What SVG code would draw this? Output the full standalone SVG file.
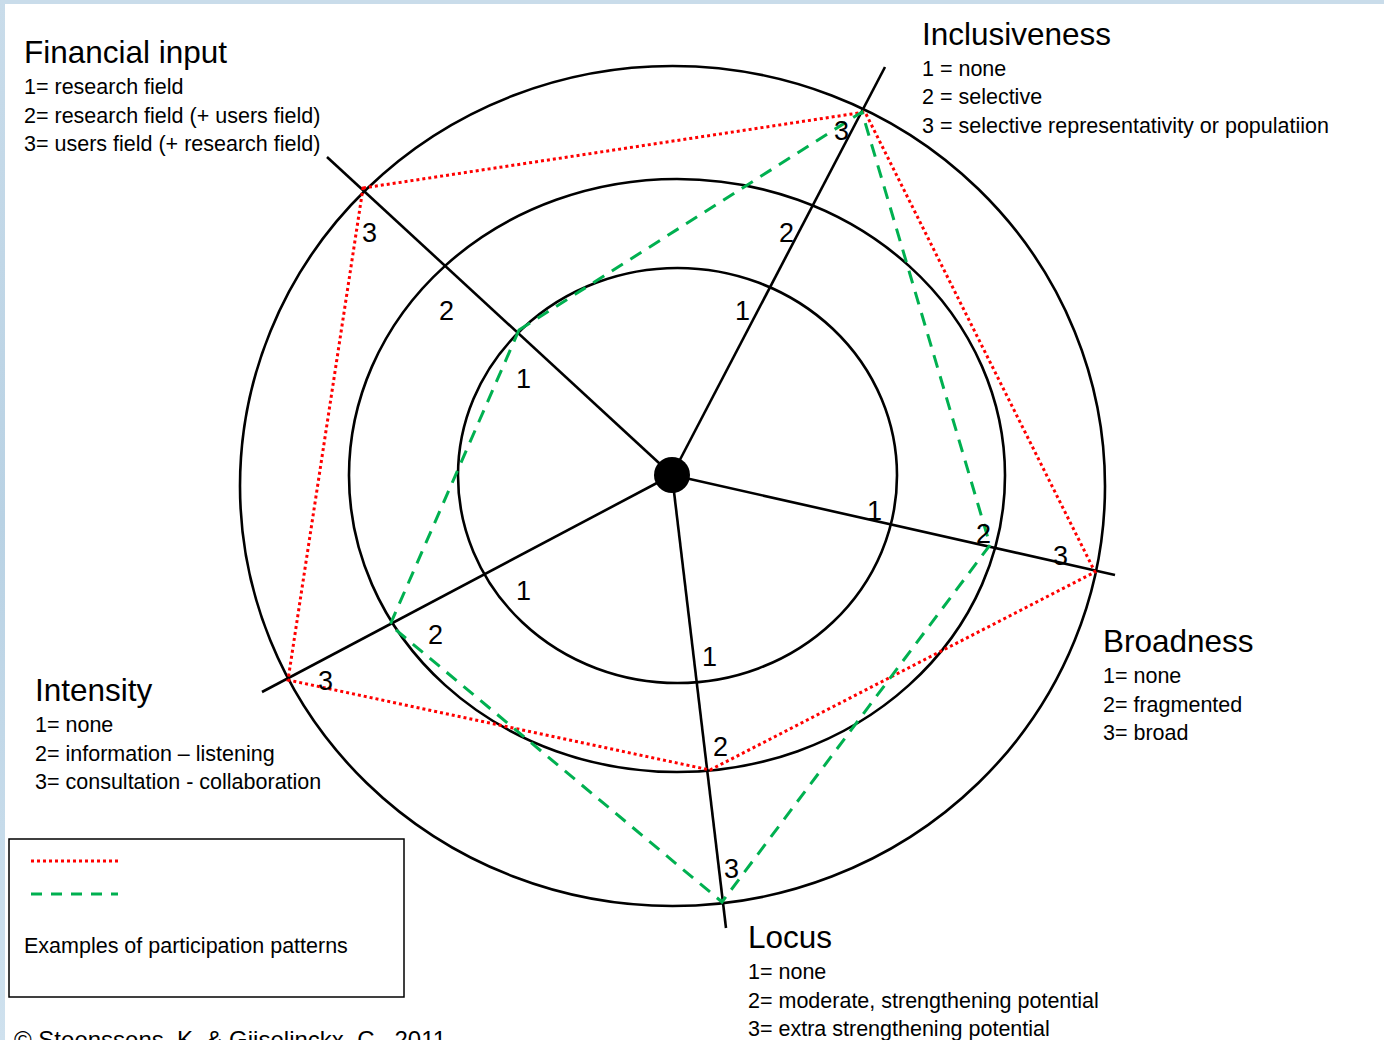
<svg xmlns="http://www.w3.org/2000/svg" width="1384" height="1040" viewBox="0 0 1384 1040">
<defs>
<linearGradient id="edge" x1="0" y1="0" x2="0" y2="1">
<stop offset="0" stop-color="#c9dcea"/>
<stop offset="0.5" stop-color="#b9d2e4"/>
<stop offset="1" stop-color="#cfe1ee"/>
</linearGradient>
</defs>
<style>
.ring{fill:none;stroke:#000;stroke-width:2.6}
.axis{stroke:#000;stroke-width:2.6;fill:none}
.red{fill:none;stroke:#ff0000;stroke-width:3;stroke-dasharray:3 3}
.green{fill:none;stroke:#00b050;stroke-width:3;stroke-dasharray:13 9}
.t{font-family:"Liberation Sans",Arial,sans-serif;fill:#000}
.title{font-size:31.5px}
.body{font-size:21.5px}
.num{font-size:27px}
</style>
<rect x="0" y="0" width="1384" height="1040" fill="#ffffff"/>
<rect x="0" y="0" width="1384" height="4" fill="#c9dcea"/>
<rect x="0" y="0" width="5" height="1040" fill="url(#edge)"/>

<g id="rings">
<ellipse class="ring" cx="672.5" cy="486" rx="432.5" ry="420"/>
<ellipse class="ring" cx="677" cy="475.5" rx="328" ry="296.5"/>
<ellipse class="ring" cx="677.5" cy="475.5" rx="219.5" ry="207.5"/>
</g>

<g id="connectors">
<line class="axis" x1="672" y1="475" x2="327" y2="157"/>
<line class="axis" x1="672" y1="475" x2="885" y2="67"/>
<line class="axis" x1="672" y1="475" x2="1115" y2="575"/>
<line class="axis" x1="672" y1="475" x2="726" y2="928"/>
<line class="axis" x1="672" y1="475" x2="262" y2="692"/>
</g>

<g id="center">
<circle cx="672" cy="475" r="18" fill="#000"/>
</g>

<g id="patterns">
<polygon class="red" points="363,188 865,112 1095,572 710,770 288,680"/>
<polygon class="green" points="519,330 862,112 990,545 722,902 390,625"/>
</g>

<g id="scale-numbers" class="t num">
<text x="362" y="242">3</text>
<text x="439" y="320">2</text>
<text x="516" y="388">1</text>
<text x="834" y="140">3</text>
<text x="779" y="242">2</text>
<text x="735" y="320">1</text>
<text x="867" y="520">1</text>
<text x="976" y="543">2</text>
<text x="1053" y="565">3</text>
<text x="702" y="666">1</text>
<text x="713" y="756">2</text>
<text x="724" y="878">3</text>
<text x="516" y="600">1</text>
<text x="428" y="644">2</text>
<text x="318" y="690">3</text>
</g>

<g id="financial-input" class="t">
<text class="title" x="24" y="63">Financial input</text>
<text class="body" x="24" y="94">1= research field</text>
<text class="body" x="24" y="123">2= research field (+ users field)</text>
<text class="body" x="24" y="151">3= users field (+ research field)</text>
</g>

<g id="inclusiveness" class="t">
<text class="title" x="922" y="45">Inclusiveness</text>
<text class="body" x="922" y="76">1 = none</text>
<text class="body" x="922" y="104">2 = selective</text>
<text class="body" x="922" y="133">3 = selective representativity or populatiion</text>
</g>

<g id="broadness" class="t">
<text class="title" x="1103" y="652">Broadness</text>
<text class="body" x="1103" y="683">1= none</text>
<text class="body" x="1103" y="712">2= fragmented</text>
<text class="body" x="1103" y="740">3= broad</text>
</g>

<g id="intensity" class="t">
<text class="title" x="35" y="701">Intensity</text>
<text class="body" x="35" y="732">1= none</text>
<text class="body" x="35" y="761">2= information – listening</text>
<text class="body" x="35" y="789">3= consultation - collaboration</text>
</g>

<g id="locus" class="t">
<text class="title" x="748" y="948">Locus</text>
<text class="body" x="748" y="979">1= none</text>
<text class="body" x="748" y="1008">2= moderate, strengthening potential</text>
<text class="body" x="748" y="1036">3= extra strengthening potential</text>
</g>

<g id="legend">
<rect x="9" y="839" width="395" height="158" fill="#fff" stroke="#000" stroke-width="1.5"/>
<line class="red" x1="31" y1="861" x2="118" y2="861"/>
<line x1="31" y1="894" x2="118" y2="894" stroke="#00b050" stroke-width="3" stroke-dasharray="11 9"/>
<text class="t body" x="24" y="953">Examples of participation patterns</text>
</g>

<g id="copyright">
<text class="t" font-size="24" x="14" y="1048">© Steenssens, K. &amp; Gijselinckx, C., 2011</text>
</g>
</svg>
